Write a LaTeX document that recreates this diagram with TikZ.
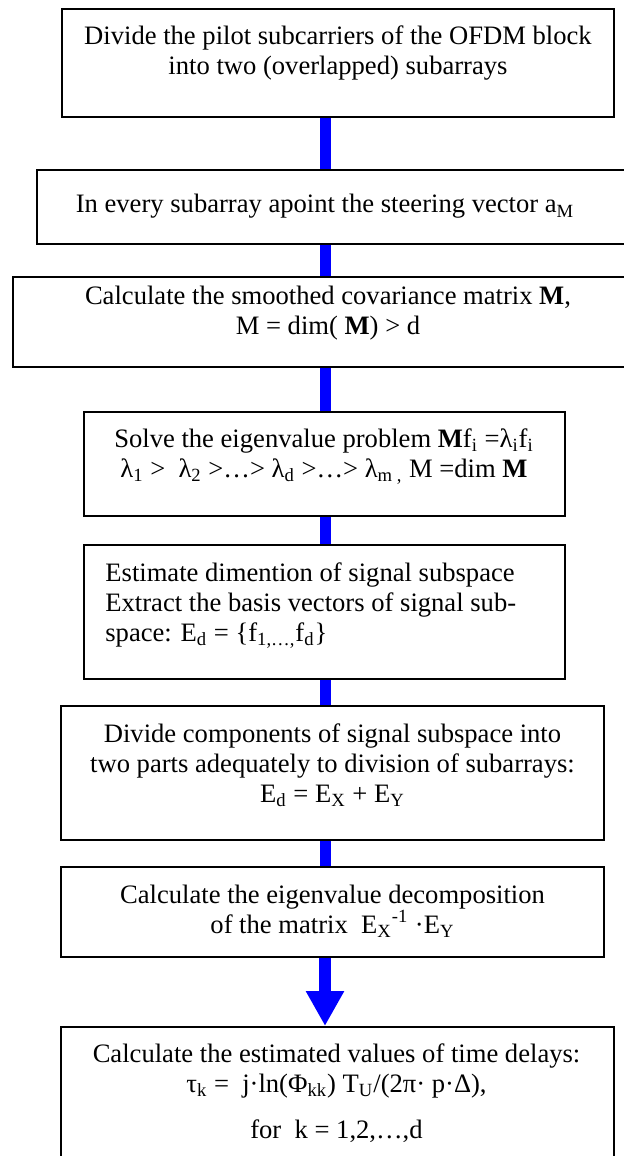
\documentclass[tikz,border=0pt]{standalone}
\usepackage{fontspec}
\setmainfont{Liberation Serif}
\usetikzlibrary{arrows.meta}
\definecolor{linkblue}{RGB}{0,0,255}

\tikzset{
  stepbox/.style={rectangle, draw=black, line width=1pt, inner sep=0pt},
  txt/.style={inner sep=0pt, align=center, font=\fontsize{13.3}{15}\selectfont},
  link/.style={draw=linkblue, line width=5.5pt},
}

\begin{document}
\begin{tikzpicture}[x=0.5pt, y=-0.5pt]
  \useasboundingbox (0,0) rectangle (624,1156);
  \clip (0,0) rectangle (624,1156);
  \coordinate (spine) at (325,0);

  % boxes
  \node[stepbox, minimum width=276pt, minimum height=54pt] (b1) at (338,63) {};
  \node[stepbox, minimum width=301.5pt, minimum height=37pt] (b2) at (338.5,207) {};
  \node[stepbox, minimum width=313.5pt, minimum height=45pt] (b3) at (326.5,322) {};
  \node[stepbox, minimum width=240.5pt, minimum height=52pt] (b4) at (324.5,464) {};
  \node[stepbox, minimum width=240.5pt, minimum height=67pt] (b5) at (324.5,612) {};
  \node[stepbox, minimum width=271.5pt, minimum height=67pt] (b6) at (332.5,773) {};
  \node[stepbox, minimum width=271.5pt, minimum height=45pt] (b7) at (332.5,912) {};
  \node[stepbox, minimum width=276.5pt, minimum height=71.5pt] (b8) at (337.5,1098.5) {};

  % texts (anchored at the baseline of the last line)
  \node[txt, anchor=base] (t1) at (338,75) {Divide the pilot subcarriers of the OFDM block\\into two (overlapped) subarrays};
  \node[txt, anchor=base] (t2) at (325,213) {In every subarray apoint the steering vector a\textsubscript{M}};
  \node[txt, anchor=base] (t3) at (328,334) {Calculate the smoothed covariance matrix \textbf{M},\\M = dim( \textbf{M}) > d};
  \node[txt, anchor=base] (t4) at (324,477) {Solve the eigenvalue problem \textbf{M}f\textsubscript{i} =λ\textsubscript{i}f\textsubscript{i}\\λ\textsubscript{1} >~ λ\textsubscript{2} >…> λ\textsubscript{d} >…> λ\textsubscript{m ,} M =dim \textbf{M}};
  \node[txt, anchor=base west, align=left] (t5) at (105,641) {Estimate dimention of signal subspace\\Extract the basis vectors of signal sub-\\space: E\textsubscript{d} = \{f\textsubscript{1,…,}f\textsubscript{d}\}};
  \node[txt, anchor=base] (t6) at (332.5,802) {Divide components of signal subspace into\\two parts adequately to division of subarrays:\\E\textsubscript{d} = E\textsubscript{X} + E\textsubscript{Y}};
  \node[txt, anchor=base] (t7) at (332.5,933) {Calculate the eigenvalue decomposition\\of the matrix~ E\textsubscript{X}\textsuperscript{-1} ·E\textsubscript{Y}};
  \node[txt, anchor=base] (t8) at (336.5,1138) {Calculate the estimated values of time delays:\\τ\textsubscript{k} =~ j·ln(Φ\textsubscript{kk}) T\textsubscript{U}/(2π· p·Δ),\\[8pt]for~ k = 1,2,…,d};

  % connectors
  \draw[link] (b1.south -| spine) -- (b2.north -| spine);
  \draw[link] (b2.south -| spine) -- (b3.north -| spine);
  \draw[link] (b3.south -| spine) -- (b4.north -| spine);
  \draw[link] (b4.south -| spine) -- (b5.north -| spine);
  \draw[link] (b5.south -| spine) -- (b6.north -| spine);
  \draw[link] (b6.south -| spine) -- (b7.north -| spine);
  \draw[link, line width=6pt, -{Triangle[length=17.5pt, width=18pt]}] (b7.south -| spine) -- (b8.north -| spine);
\end{tikzpicture}
\end{document}
